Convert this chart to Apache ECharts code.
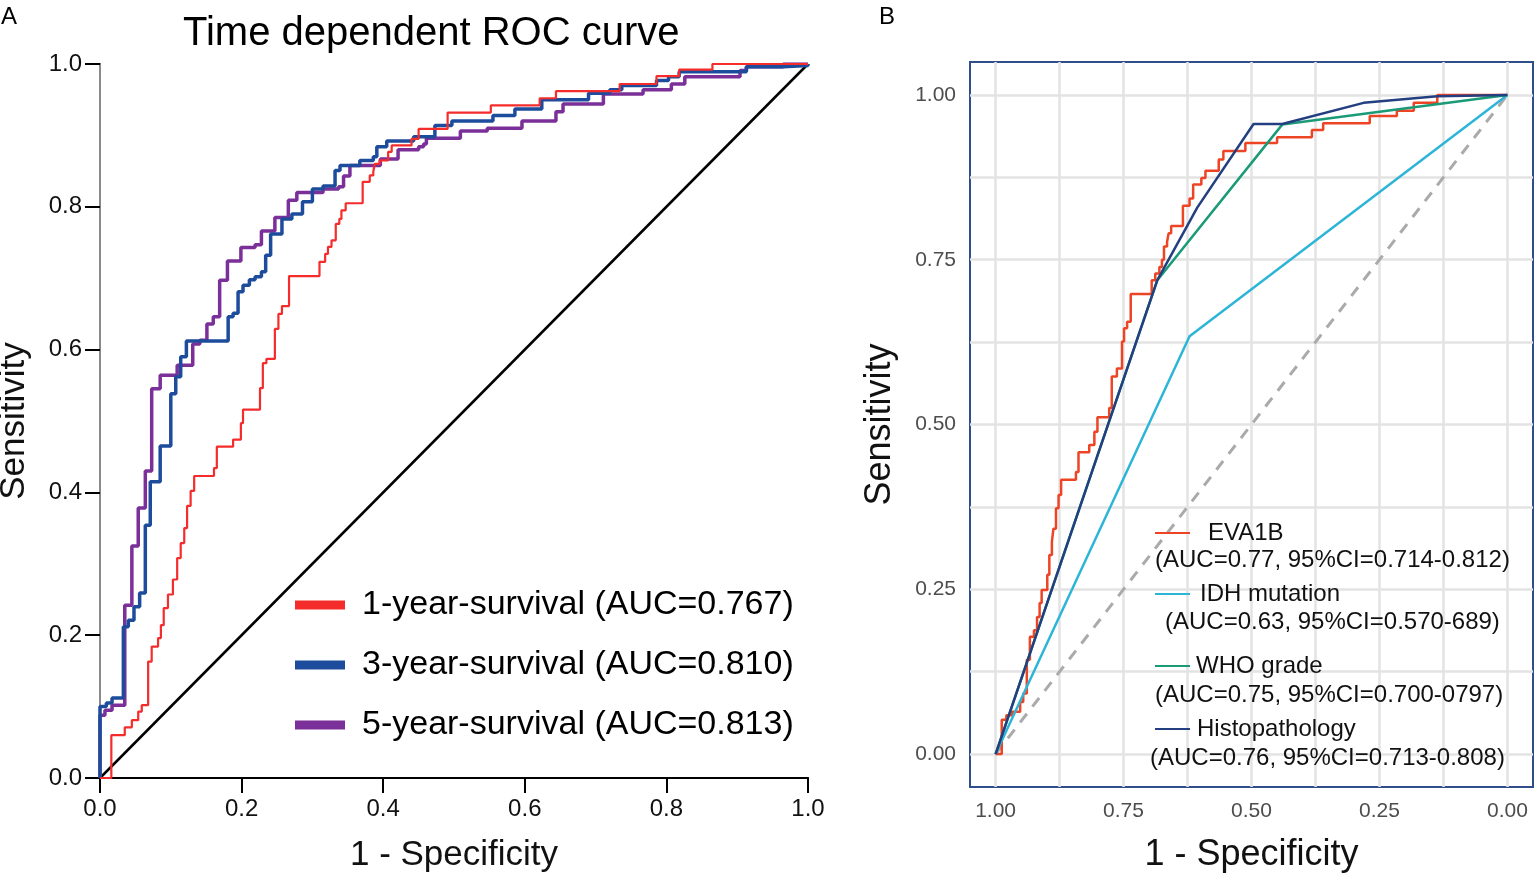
<!DOCTYPE html>
<html>
<head>
<meta charset="utf-8">
<script src="https://cdn.jsdelivr.net/npm/echarts@6/dist/echarts.min.js"></script>
<style>
html,body{margin:0;padding:0;background:#fff;}
#c{width:1536px;height:875px;}
</style>
</head>
<body>
<div id="c"></div>
<script>
// ---------- Panel A: time dependent ROC (x = 1 - specificity, y = sensitivity) ----------
const a1Fpr = [0,0.016,0.035,0.045,0.054,0.059,0.068,0.073,0.082,0.086,0.090,0.096,0.103,0.109,0.114,0.119,0.123,0.128,0.133,0.161,0.165,0.188,0.199,0.202,0.226,0.230,0.235,0.247,0.252,0.257,0.267,0.310,0.318,0.322,0.327,0.333,0.338,0.341,0.347,0.371,0.381,0.386,0.388,0.395,0.407,0.412,0.440,0.450,0.491,0.552,0.621,0.644,0.734,0.786,0.818,0.865,1];
const a1Tpr = [0,0.060,0.071,0.081,0.093,0.102,0.163,0.184,0.196,0.214,0.238,0.257,0.278,0.308,0.329,0.350,0.381,0.402,0.423,0.434,0.464,0.474,0.497,0.516,0.546,0.581,0.587,0.629,0.650,0.661,0.703,0.723,0.734,0.744,0.753,0.776,0.783,0.795,0.805,0.835,0.844,0.849,0.860,0.865,0.877,0.886,0.895,0.909,0.932,0.942,0.952,0.962,0.972,0.983,0.992,1.0,1.0];
const a3Fpr = [0,0,0.009,0.017,0.033,0.040,0.048,0.056,0.064,0.071,0.085,0.100,0.107,0.114,0.122,0.181,0.188,0.195,0.202,0.211,0.219,0.228,0.234,0.241,0.257,0.271,0.286,0.300,0.315,0.332,0.339,0.367,0.386,0.391,0.405,0.443,0.473,0.497,0.555,0.586,0.624,0.690,0.720,0.737,0.786,0.803,0.818,0.913,0.965,1];
const a3Tpr = [0,0.10,0.105,0.112,0.212,0.221,0.240,0.259,0.354,0.415,0.465,0.538,0.562,0.590,0.612,0.646,0.651,0.681,0.690,0.698,0.702,0.709,0.732,0.762,0.783,0.790,0.807,0.825,0.829,0.851,0.858,0.865,0.870,0.884,0.892,0.898,0.914,0.920,0.928,0.937,0.950,0.959,0.964,0.970,0.977,0.982,0.989,0.996,0.998,1];
const a5Fpr = [0,0,0.007,0.017,0.035,0.045,0.054,0.064,0.073,0.085,0.109,0.131,0.141,0.151,0.160,0.169,0.180,0.199,0.219,0.228,0.247,0.266,0.278,0.315,0.337,0.344,0.353,0.396,0.421,0.450,0.457,0.461,0.509,0.547,0.596,0.644,0.654,0.711,0.767,0.807,0.826,0.904,0.913,0.965,1];
const a5Tpr = [0,0.088,0.095,0.102,0.242,0.325,0.378,0.430,0.545,0.564,0.578,0.608,0.613,0.636,0.646,0.697,0.724,0.743,0.747,0.766,0.785,0.809,0.820,0.825,0.828,0.843,0.858,0.867,0.880,0.884,0.888,0.896,0.906,0.910,0.920,0.933,0.944,0.958,0.964,0.972,0.982,0.991,0.996,1.0,1.0];
const refX = [0,1];
const refY = [0,1];
const seriesNamesA = ['1-year-survival (AUC=0.767)','3-year-survival (AUC=0.810)','5-year-survival (AUC=0.813)'];
const ticksA = [0,0.2,0.4,0.6,0.8,1.0];

// ---------- Panel B: ROC (x = specificity, reversed axis) ----------
const evaSpec = [1,0.988,0.979,0.968,0.952,0.946,0.939,0.933,0.925,0.919,0.914,0.910,0.899,0.895,0.890,0.887,0.882,0.877,0.872,0.843,0.838,0.817,0.807,0.801,0.778,0.773,0.763,0.753,0.749,0.743,0.736,0.695,0.688,0.680,0.675,0.671,0.665,0.662,0.657,0.634,0.621,0.614,0.598,0.590,0.564,0.555,0.512,0.450,0.382,0.360,0.269,0.216,0.183,0.137,0];
const evaSens = [0,0.052,0.059,0.064,0.079,0.092,0.143,0.178,0.188,0.208,0.229,0.249,0.272,0.302,0.322,0.342,0.373,0.393,0.416,0.428,0.458,0.469,0.489,0.511,0.525,0.573,0.585,0.626,0.646,0.656,0.698,0.719,0.729,0.739,0.750,0.770,0.777,0.790,0.801,0.832,0.843,0.864,0.874,0.885,0.902,0.915,0.927,0.936,0.947,0.957,0.968,0.976,0.988,1.0,1.0];
const idhSpec = [1,0.621,0];
const idhSens = [0,0.634,1];
const whoSpec = [1,0.684,0.440,0];
const whoSens = [0,0.719,0.955,1];
const histSpec = [1,0.684,0.606,0.496,0.440,0.281,0.137,0];
const histSens = [0,0.719,0.829,0.956,0.956,0.988,0.998,1];
const diagSpec = [1,0];
const diagSens = [0,1];
const namesB = ['EVA1B','IDH mutation','WHO grade','Histopathology'];
const ciB = ['(AUC=0.77, 95%CI=0.714-0.812)','(AUC=0.63, 95%CI=0.570-689)','(AUC=0.75, 95%CI=0.700-0797)','(AUC=0.76, 95%CI=0.713-0.808)'];
const ticksB = [0,0.25,0.5,0.75,1];
const gridStepsB = [0,0.125,0.25,0.375,0.5,0.625,0.75,0.875,1];

const zip = (xs, ys) => xs.map((x, i) => [x, ys[i]]);
const FONT = '"Liberation Sans", Arial, sans-serif';

const chart = echarts.init(document.getElementById('c'), null, {renderer: 'canvas'});

const stepSeriesA = (name, xs, ys, color, w, z) => ({
  name, type: 'line', step: 'end', xAxisIndex: 0, yAxisIndex: 0,
  data: zip(xs, ys), showSymbol: false, symbol: 'none', z,
  lineStyle: {color, width: w}, itemStyle: {color}, animation: false
});
const lineB = (name, xs, ys, color, w, z, extra) => Object.assign({
  name, type: 'line', xAxisIndex: 2, yAxisIndex: 2,
  data: zip(xs, ys), showSymbol: false, symbol: 'none', z,
  lineStyle: {color, width: w}, itemStyle: {color}, animation: false
}, extra || {});

const legendB = (name, top, pad) => ({
  data: [{name, icon: 'rect'}], left: 1155, top, padding: 0,
  itemWidth: 35, itemHeight: 2, selectedMode: false,
  textStyle: {fontSize: 24, color: '#111', fontFamily: FONT, padding: [0,0,0,pad]}
});

const ciGraphics = [
  {x: 1155, y: 560}, {x: 1165, y: 622}, {x: 1155, y: 695}, {x: 1150, y: 758}
].map((p, i) => ({
  type: 'text', x: p.x, y: p.y, z: 10,
  style: {text: ciB[i], font: '24px ' + FONT, fill: '#111', textVerticalAlign: 'middle'}
}));

const option = {
  backgroundColor: '#fff',
  animation: false,
  title: [
    {text: 'Time dependent ROC curve', left: 183, top: 14, padding: 0,
     textStyle: {fontSize: 40, fontWeight: 'normal', color: '#000', fontFamily: FONT}},
    {text: 'A', left: 1, top: 5, padding: 0, textStyle: {fontSize: 24, fontWeight: 'normal', color: '#000', fontFamily: FONT}},
    {text: 'B', left: 879, top: 5, padding: 0, textStyle: {fontSize: 24, fontWeight: 'normal', color: '#000', fontFamily: FONT}}
  ],
  legend: [
    {data: seriesNamesA.map(n => ({name: n, icon: 'rect'})), orient: 'vertical', left: 295, top: 588, padding: 0,
     itemWidth: 50, itemHeight: 9, itemGap: 26, selectedMode: false,
     textStyle: {fontSize: 34, color: '#000', fontFamily: FONT, padding: [0,0,0,12]}},
    legendB(namesB[0], 521, 13),
    legendB(namesB[1], 582, 5),
    legendB(namesB[2], 654, 1),
    legendB(namesB[3], 717, 2)
  ],
  grid: [
    {left: 100, top: 64, width: 708, height: 714, show: false, containLabel: false, outerBoundsMode: 'none'},
    {left: 970, top: 62, width: 563, height: 725, show: true, borderColor: '#2F4E8C', borderWidth: 2, backgroundColor: '#fff', containLabel: false, outerBoundsMode: 'none'}
  ],
  xAxis: [
    {type: 'value', gridIndex: 0, min: 0, max: 1, interval: 0.2, position: 'bottom',
     axisLine: {lineStyle: {color: '#000', width: 2}},
     axisTick: {show: true, length: 15, lineStyle: {color: '#000', width: 2}},
     axisLabel: {fontSize: 24, color: '#111', margin: 19, fontFamily: FONT, formatter: v => v.toFixed(1)},
     splitLine: {show: false},
     name: '1 - Specificity', nameLocation: 'middle', nameGap: 60,
     nameTextStyle: {fontSize: 35, color: '#111', fontFamily: FONT}},
    {type: 'value', gridIndex: 0, min: 0, max: 1, position: 'top',
     axisLine: {lineStyle: {color: '#000', width: 2}}, axisTick: {show: false}, axisLabel: {show: false}, splitLine: {show: false}},
    {type: 'value', gridIndex: 1, min: -0.05, max: 1.05, inverse: true,
     axisLine: {show: false},
     axisTick: {show: false, customValues: gridStepsB},
     axisLabel: {customValues: ticksB, fontSize: 21, color: '#4D4D4D', margin: 14, fontFamily: FONT, formatter: v => v.toFixed(2)},
     splitLine: {show: true, lineStyle: {color: '#E3E3E3', width: 2.5}},
     name: '1 - Specificity', nameLocation: 'middle', nameGap: 50,
     nameTextStyle: {fontSize: 36, color: '#111', fontFamily: FONT}}
  ],
  yAxis: [
    {type: 'value', gridIndex: 0, min: 0, max: 1, interval: 0.2,
     axisLine: {lineStyle: {color: '#000', width: 2}},
     axisTick: {show: true, length: 15, lineStyle: {color: '#000', width: 2}},
     axisLabel: {fontSize: 24, color: '#111', margin: 18, fontFamily: FONT, formatter: v => v.toFixed(1)},
     splitLine: {show: false},
     name: 'Sensitivity', nameLocation: 'middle', nameGap: 68,
     nameTextStyle: {fontSize: 35, color: '#111', fontFamily: FONT}},
    {type: 'value', gridIndex: 0, min: 0, max: 1, position: 'right',
     axisLine: {lineStyle: {color: '#8A8A8A', width: 2}}, axisTick: {show: false}, axisLabel: {show: false}, splitLine: {show: false}},
    {type: 'value', gridIndex: 1, min: -0.05, max: 1.05,
     axisLine: {show: false},
     axisTick: {show: false, customValues: gridStepsB},
     axisLabel: {customValues: ticksB, fontSize: 21, color: '#4D4D4D', margin: 14, fontFamily: FONT, formatter: v => v.toFixed(2)},
     splitLine: {show: true, lineStyle: {color: '#E3E3E3', width: 2.5}},
     name: 'Sensitivity', nameLocation: 'middle', nameGap: 72,
     nameTextStyle: {fontSize: 36, color: '#111', fontFamily: FONT}}
  ],
  series: [
    {name: 'ref', type: 'line', xAxisIndex: 0, yAxisIndex: 0, data: zip(refX, refY), showSymbol: false, symbol: 'none',
     lineStyle: {color: '#000', width: 2.5}, z: 1, animation: false},
    stepSeriesA(seriesNamesA[2], a5Fpr, a5Tpr, '#7B2F98', 3.5, 2),
    stepSeriesA(seriesNamesA[1], a3Fpr, a3Tpr, '#1E4C9C', 3.5, 3),
    stepSeriesA(seriesNamesA[0], a1Fpr, a1Tpr, '#F52C2C', 2.2, 4),
    lineB('diag', diagSpec, diagSens, '#AAAAAA', 3, 1, {lineStyle: {color: '#AAAAAA', width: 3, type: [11, 9]}}),
    lineB(namesB[0], evaSpec, evaSens, '#EE4426', 2.5, 2, {step: 'end'}),
    lineB(namesB[1], idhSpec, idhSens, '#2DB5D8', 2.5, 3),
    lineB(namesB[2], whoSpec, whoSens, '#1A9A76', 2.5, 4),
    lineB(namesB[3], histSpec, histSens, '#233F80', 2.5, 5)
  ],
  graphic: ciGraphics
};
chart.setOption(option);
</script>
</body>
</html>
